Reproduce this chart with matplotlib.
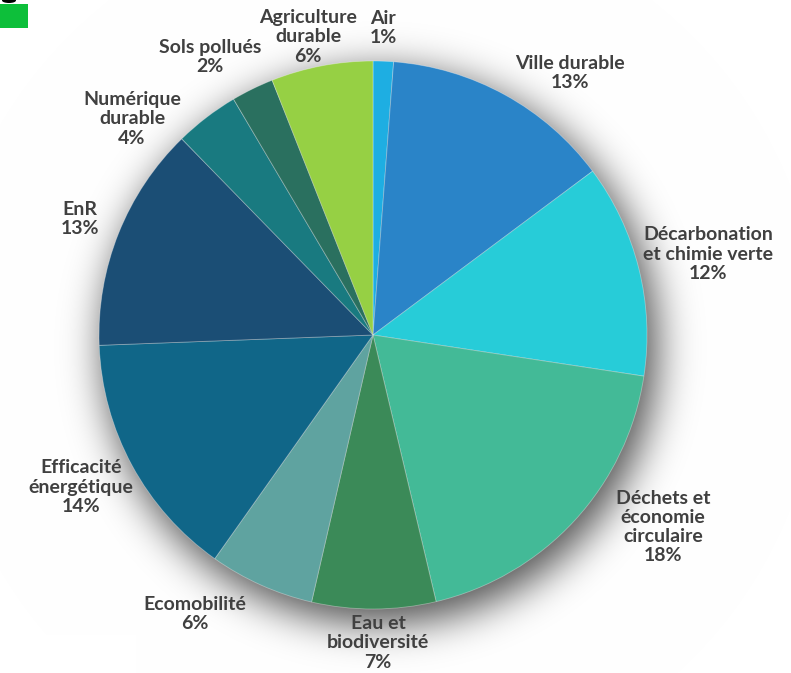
import math
import numpy as np
import matplotlib
matplotlib.use("Agg")
import matplotlib.pyplot as plt
from matplotlib.patches import Rectangle, Ellipse

# ---------------- data ----------------
categories = ["Air", "Ville durable", "Décarbonation\net chimie verte",
              "Déchets et\néconomie\ncirculaire", "Eau et\nbiodiversité",
              "Ecomobilité", "Efficacité\nénergétique", "EnR",
              "Numérique\ndurable", "Sols pollués", "Agriculture\ndurable"]
values = [1.2, 13.6, 12.6, 18.9, 7.3, 6.2, 14.6, 13.3, 3.8, 2.5, 6.0]
pct_labels = ["1%", "13%", "12%", "18%", "7%", "6%", "14%", "13%", "4%", "2%", "6%"]
colors = ["#1eaee2", "#2a84c8", "#27ccd8", "#43ba97", "#3b8a58", "#5fa3a0",
          "#106688", "#1b4e75", "#197a80", "#2a705f", "#96d044"]

# ---------------- layout ----------------
W, H = 791, 673
CX, CY, R = 373, 335, 274          # pie centre / radius in pixels (from top)
label_pos = [(383, 28), (570, 73), (708, 254), (663, 527), (378, 643),
             (195, 614), (81, 487), (80, 219), (132, 119), (210, 57), (308, 37)]

fig = plt.figure(figsize=(W / 100, H / 100), dpi=100)
fig.patch.set_facecolor("white")

# soft drop shadow behind the pie
yy, xx = np.mgrid[0:H, 0:W].astype(float)
d = np.hypot(xx - (CX + 7), yy - (CY + 12))
sigma = 20.0
erfc = np.frompyfunc(math.erfc, 1, 1)
shade = 0.5 * erfc((d - (R + 2)) / (sigma * math.sqrt(2))).astype(float)
alpha = 0.68 * shade
img = np.ones((H, W, 4))
img[..., 0] = 1 - alpha
img[..., 1] = 1 - alpha
img[..., 2] = 1 - alpha
img[..., 3] = 1.0
fig.figimage(img, xo=0, yo=0, origin="upper", zorder=-5)

ax = fig.add_axes([(CX - R) / W, (H - CY - R) / H, 2 * R / W, 2 * R / H])
ax.set_zorder(3)
ax.pie(values, colors=colors, startangle=90, counterclock=False, radius=1,
       wedgeprops=dict(edgecolor=(1, 1, 1, 0.35), linewidth=0.6))
ax.set_xlim(-1, 1)
ax.set_ylim(-1, 1)
ax.set_aspect("equal")
ax.axis("off")
ax.patch.set_alpha(0)

font = dict(family=["Lato", "DejaVu Sans"], fontweight="bold", color="#404040",
            fontsize=14)
for cat, pct, (px, py) in zip(categories, pct_labels, label_pos):
    fig.text(px / W, 1 - py / H, cat + "\n" + pct, ha="center", va="center",
             multialignment="center", linespacing=1.15, zorder=6, **font)

# decorations from the source screenshot
fig.patches.append(Rectangle((0, 1 - 28 / H), 28 / W, 24 / H, transform=fig.transFigure,
                             facecolor="#0dbf3a", edgecolor="none", zorder=5))
fig.patches.append(Ellipse((9 / W, 1 - 0.5 / H), 14 / W, 5 / H, transform=fig.transFigure,
                           facecolor="black", edgecolor="none", zorder=5))
fig.patches.append(Rectangle((0, 0), 136 / W, (H - 635) / H, transform=fig.transFigure,
                             facecolor="white", edgecolor="none", zorder=5))

fig.savefig("out.png", dpi=100, facecolor="white")
